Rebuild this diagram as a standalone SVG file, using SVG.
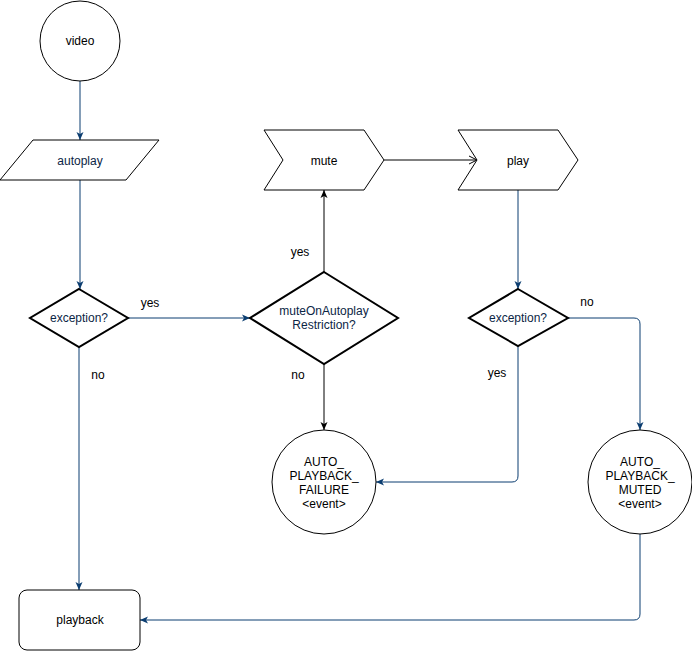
<svg xmlns="http://www.w3.org/2000/svg" width="692" height="651" viewBox="0 0 692 651">
<style>
.node{fill:#fff;stroke:#000;stroke-width:1}
.dec{fill:#fff;stroke:#000;stroke-width:2}
.t{font-family:"Liberation Sans",Arial,sans-serif;font-size:12px;fill:#000;text-anchor:middle}
.tb{fill:#0b2545}
.blue{fill:none;stroke:#0b3d70;stroke-width:1}
.blk{fill:none;stroke:#000;stroke-width:1}
</style>
<defs>
<marker id="ab" markerUnits="userSpaceOnUse" markerWidth="10" markerHeight="10" viewBox="0 0 10 10" refX="9" refY="5" orient="auto">
<path d="M1,1.5 L9,5 L1,8.5 L3,5 Z" fill="#0b3d70"/>
</marker>
<marker id="ak" markerUnits="userSpaceOnUse" markerWidth="10" markerHeight="10" viewBox="0 0 10 10" refX="9" refY="5" orient="auto">
<path d="M1,1.5 L9,5 L1,8.5 L3,5 Z" fill="#000"/>
</marker>
<marker id="ao" markerUnits="userSpaceOnUse" markerWidth="10" markerHeight="10" viewBox="0 0 10 10" refX="9" refY="5" orient="auto">
<path d="M1,1 L9,5 L1,9" fill="none" stroke="#000" stroke-width="1"/>
</marker>
</defs>
<g id="connectors">
<path class="blue" d="M80,81 L80,140" marker-end="url(#ab)"/>
<path class="blue" d="M80,180 L80,289" marker-end="url(#ab)"/>
<path class="blue" d="M128,318 L250,318" marker-end="url(#ab)"/>
<path class="blk" d="M324,272 L324,190" marker-end="url(#ak)"/>
<path class="blk" d="M324,364 L324,430" marker-end="url(#ak)"/>
<path class="blue" d="M79,347 L79,590" marker-end="url(#ab)"/>
<path class="blk" d="M384,160 L477,160" marker-end="url(#ao)"/>
<path class="blue" d="M518,190 L518,289" marker-end="url(#ab)"/>
<path class="blue" d="M518,346 L518,476 Q518,482 512,482 L376,482" marker-end="url(#ab)"/>
<path class="blue" d="M568,318 L634,318 Q640,318 640,324 L640,430" marker-end="url(#ab)"/>
<path class="blue" d="M640,534 L640,614 Q640,620 634,620 L140,620" marker-end="url(#ab)"/>
<text class="t" x="150" y="307">yes</text>
<text class="t" x="98" y="379">no</text>
<text class="t" x="300" y="256">yes</text>
<text class="t" x="298" y="379">no</text>
<text class="t" x="587" y="306">no</text>
<text class="t" x="497" y="377">yes</text>
</g>
<g id="video">
<circle class="node" cx="80" cy="41" r="40"/>
<text class="t" x="80" y="45">video</text>
</g>
<g id="autoplay">
<path class="node" d="M33,140 L159,140 L126,180 L0,180 Z" stroke-linejoin="round"/>
<text class="t tb" x="80" y="165">autoplay</text>
</g>
<g id="exception1">
<path class="dec" d="M79,289 L128,318 L79,347 L30,318 Z"/>
<text class="t tb" x="79" y="322">exception?</text>
</g>
<g id="muteOnAutoplay">
<path class="dec" d="M324,272 L398,318 L324,364 L250,318 Z"/>
<text class="t tb" x="324" y="315">muteOnAutoplay</text>
<text class="t tb" x="324" y="329">Restriction?</text>
</g>
<g id="mute">
<path class="node" d="M264,130 L364,130 L384,160 L364,190 L264,190 L283,160 Z"/>
<text class="t" x="324" y="165">mute</text>
</g>
<g id="play">
<path class="node" d="M458,130 L558,130 L578,160 L558,190 L458,190 L477,160 Z"/>
<text class="t" x="518" y="165">play</text>
</g>
<g id="exception2">
<path class="dec" d="M518,289 L568,318 L518,346 L469,318 Z"/>
<text class="t tb" x="518" y="322">exception?</text>
</g>
<g id="failure">
<circle class="node" cx="324" cy="482" r="52"/>
<text class="t" x="324" y="466">AUTO_</text>
<text class="t" x="324" y="480">PLAYBACK_</text>
<text class="t" x="324" y="494">FAILURE</text>
<text class="t" x="324" y="508">&lt;event&gt;</text>
</g>
<g id="muted">
<circle class="node" cx="640" cy="482" r="52"/>
<text class="t" x="640" y="466">AUTO_</text>
<text class="t" x="640" y="480">PLAYBACK_</text>
<text class="t" x="640" y="494">MUTED</text>
<text class="t" x="640" y="508">&lt;event&gt;</text>
</g>
<g id="playback">
<rect class="node" x="19" y="590" width="121" height="60" rx="8"/>
<text class="t" x="80" y="624">playback</text>
</g>
</svg>
